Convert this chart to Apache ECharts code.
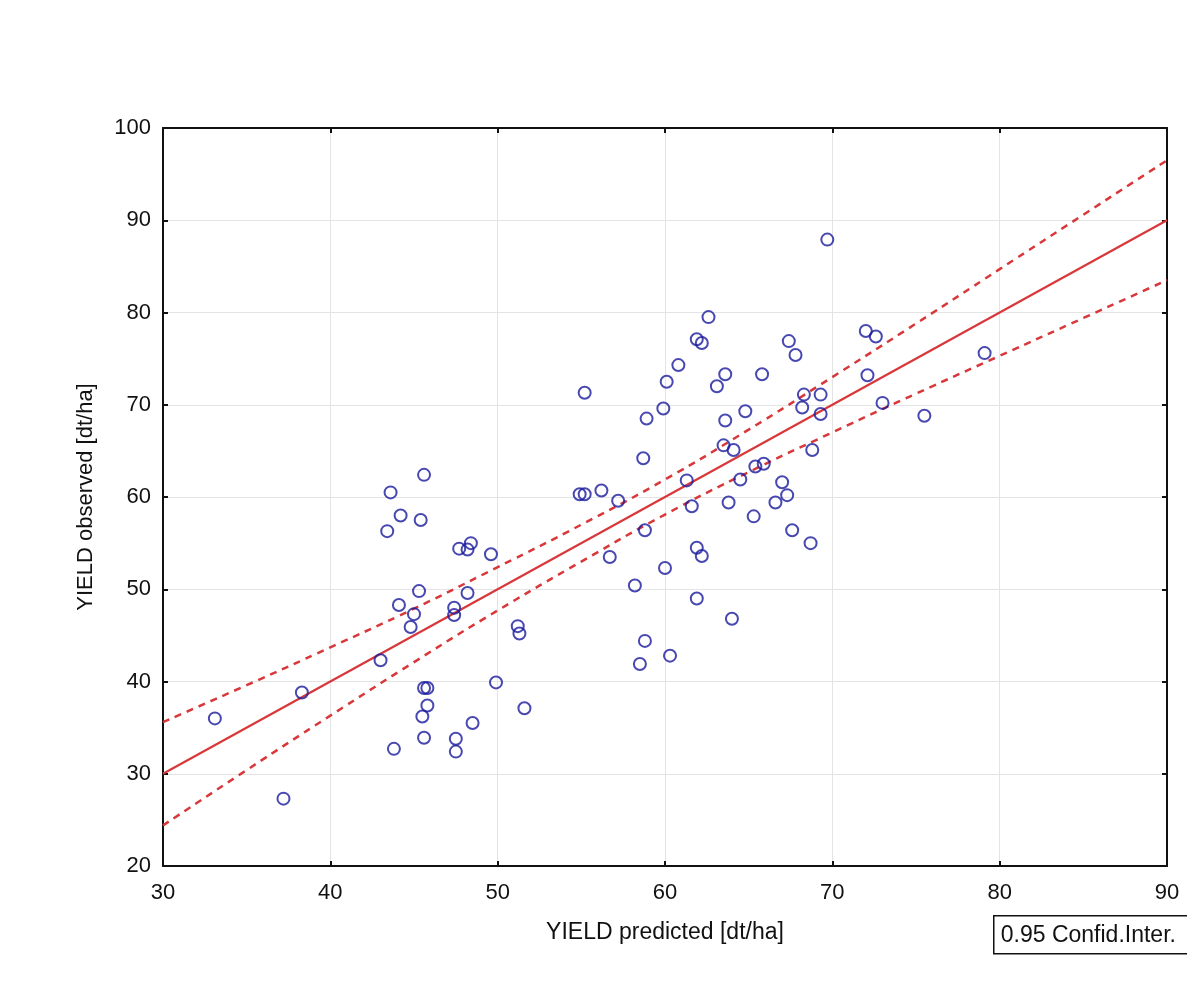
<!DOCTYPE html>
<html>
<head>
<meta charset="utf-8">
<script src="https://cdn.jsdelivr.net/npm/echarts@6/dist/echarts.min.js"></script>
<style>
  html, body { margin: 0; padding: 0; background: #fff; }
  #chart { width: 1187px; height: 984px; }
</style>
</head>
<body>
<div id="chart"></div>
<script>
// predicted vs observed yield
const predicted = [
  33.1, 37.2, 38.3, 43.0, 43.6, 43.4, 44.2, 43.8, 44.1, 45.6,
  45.4, 45.3, 45.0, 44.8, 45.6, 45.8, 45.8, 45.5, 45.6, 47.4,
  47.4, 47.5, 47.5, 47.7, 48.2, 48.4, 48.2, 48.5, 49.6, 49.9,
  51.2, 51.3, 51.6, 55.2, 69.7, 62.6, 61.9, 62.2, 67.4, 67.8,
  72.0, 72.6, 60.8, 60.1, 63.6, 63.1, 65.8, 72.1, 59.9, 58.9,
  63.6, 64.8, 68.3, 69.3, 68.2, 69.3, 73.0, 75.5, 58.7, 63.5,
  64.1, 68.8, 65.4, 65.9, 61.3, 64.5, 67.0, 54.9, 55.2, 56.2,
  57.2, 61.6, 63.8, 66.6, 67.3, 65.3, 58.8, 67.6, 56.7, 61.9,
  62.2, 68.7, 60.0, 58.2, 61.9, 64.0, 58.8, 58.5, 60.3, 79.1
];
const observed = [
  36.0, 27.3, 38.8, 42.3, 60.5, 56.3, 58.0, 32.7, 48.3, 62.4,
  57.5, 49.8, 47.3, 45.9, 39.3, 39.3, 37.4, 36.2, 33.9, 48.0,
  47.2, 33.8, 32.4, 54.4, 54.3, 55.0, 49.6, 35.5, 53.8, 39.9,
  46.0, 45.2, 37.1, 71.3, 87.9, 79.5, 77.1, 76.7, 76.9, 75.4,
  78.0, 77.4, 74.3, 72.5, 73.3, 72.0, 73.3, 73.2, 69.6, 68.5,
  68.3, 69.3, 71.1, 71.1, 69.7, 69.0, 70.2, 68.8, 64.2, 65.6,
  65.1, 65.1, 63.3, 63.6, 61.8, 61.9, 61.6, 60.3, 60.3, 60.7,
  59.6, 59.0, 59.4, 59.4, 60.2, 57.9, 56.4, 56.4, 53.5, 54.5,
  53.6, 55.0, 52.3, 50.4, 49.0, 46.8, 44.4, 41.9, 42.8, 75.6
];

// fitted line end points
const fitX = [30, 90];
const fitY = [30, 90];

// 0.95 confidence band
const bandX = [30, 35, 40, 45, 50, 55, 60, 65, 70, 75, 80, 85, 90];
const bandUpper = [35.6, 39.6, 43.7, 47.9, 52.4, 57.0, 61.9, 67.3, 73.0, 78.8, 84.7, 90.6, 96.5];
const bandLower = [24.4, 30.4, 36.3, 42.1, 47.7, 53.0, 58.1, 62.7, 67.0, 71.2, 75.3, 79.4, 83.5];

const xTicks = { min: 30, max: 90, interval: 10 };
const yTicks = { min: 20, max: 100, interval: 10 };

const FONT = "'Liberation Sans', Arial, sans-serif";
const RED = '#d8383a';
const BLUE = '#1a1a9e';

const chart = echarts.init(document.getElementById('chart'));

const zip = (a, b) => a.map((v, i) => [v, b[i]]);

const baseAxis = {
  axisLine: { show: true, lineStyle: { color: '#111', width: 2 } },
  axisTick: { show: true, inside: true, length: 5, lineStyle: { color: '#111', width: 2 } },
  splitLine: { show: false },
};

const option = {
  animation: false,
  backgroundColor: '#fff',
  grid: { left: 163, right: 20, top: 128, bottom: 118 },
  xAxis: [
    Object.assign({}, baseAxis, {
      type: 'value',
      position: 'bottom',
      min: xTicks.min, max: xTicks.max, interval: xTicks.interval,
      name: 'YIELD predicted [dt/ha]',
      nameLocation: 'middle',
      nameGap: 55,
      nameTextStyle: { fontFamily: FONT, fontSize: 23, color: '#111' },
      axisLabel: { fontFamily: FONT, fontSize: 22, color: '#111', margin: 16 },
      splitLine: { show: true, lineStyle: { color: '#e4e4e4', width: 1 } },
    }),
    Object.assign({}, baseAxis, {
      type: 'value',
      position: 'top',
      min: xTicks.min, max: xTicks.max, interval: xTicks.interval,
      axisLabel: { show: false },
    }),
  ],
  yAxis: [
    Object.assign({}, baseAxis, {
      type: 'value',
      position: 'left',
      min: yTicks.min, max: yTicks.max, interval: yTicks.interval,
      name: 'YIELD observed [dt/ha]',
      nameLocation: 'middle',
      nameGap: 66,
      nameTextStyle: { fontFamily: FONT, fontSize: 22, color: '#111' },
      axisLabel: { fontFamily: FONT, fontSize: 22, color: '#111', margin: 12 },
      splitLine: { show: true, lineStyle: { color: '#e4e4e4', width: 1 } },
    }),
    Object.assign({}, baseAxis, {
      type: 'value',
      position: 'right',
      min: yTicks.min, max: yTicks.max, interval: yTicks.interval,
      axisLabel: { show: false },
    }),
  ],
  series: [
    {
      name: 'upper',
      type: 'line',
      smooth: true,
      symbol: 'none',
      data: zip(bandX, bandUpper),
      lineStyle: { color: RED, width: 2.5, type: [7, 6] },
      z: 3,
    },
    {
      name: 'lower',
      type: 'line',
      smooth: true,
      symbol: 'none',
      data: zip(bandX, bandLower),
      lineStyle: { color: RED, width: 2.5, type: [7, 6] },
      z: 3,
    },
    {
      name: 'fit',
      type: 'line',
      symbol: 'none',
      data: zip(fitX, fitY),
      lineStyle: { color: RED, width: 2.2 },
      z: 3,
    },
    {
      name: 'points',
      type: 'scatter',
      symbol: 'circle',
      symbolSize: 12,
      data: zip(predicted, observed),
      itemStyle: { color: 'rgba(255,255,255,0)', borderColor: BLUE, borderWidth: 2 },
      z: 4,
    },
  ],
  graphic: [
    {
      type: 'group',
      left: 993,
      top: 915,
      children: [
        { type: 'rect', shape: { x: 0, y: 0, width: 200, height: 38 },
          style: { fill: '#fff', stroke: '#111', lineWidth: 1.5 } },
        { type: 'text', x: 7, y: 20,
          style: { text: '0.95 Confid.Inter.', font: "23px 'Liberation Sans', Arial, sans-serif",
                   fill: '#111', textVerticalAlign: 'middle' } },
      ],
    },
  ],
};

chart.setOption(option);
</script>
</body>
</html>
